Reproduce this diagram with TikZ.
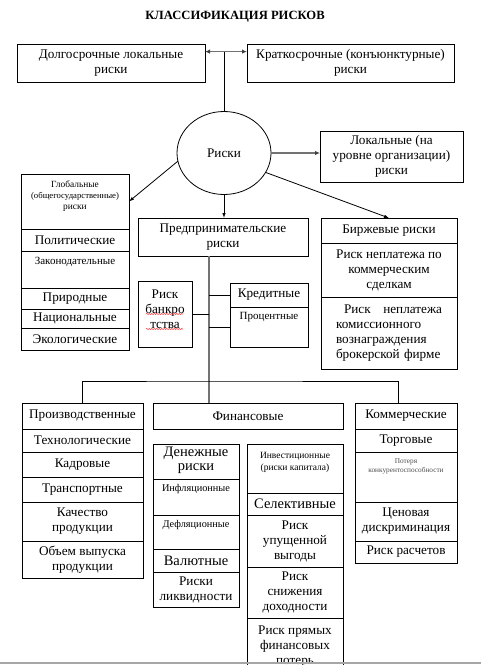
\documentclass[tikz,border=0pt]{standalone}
\usepackage{fontspec}
\setmainfont{Liberation Serif}
\usetikzlibrary{calc,shapes.geometric,arrows.meta,decorations.pathmorphing,positioning}

\tikzset{
	cell/.style={draw, rectangle, anchor=north west, inner sep=1pt, outer sep=0pt, align=center,
		line width=0.8pt, font=\fontsize{13.2}{15}\selectfont},
	bigcell/.style={cell, font=\fontsize{14.5}{14.5}\selectfont},
	toptext/.style={anchor=north, align=center, inner sep=2pt, yshift=-3pt, font=\fontsize{11}{12}\selectfont},
	link/.style={draw, line width=0.8pt},
	graylink/.style={draw=black!55, line width=1.5pt},
	>={Latex[length=5pt,width=3.5pt]}
}

\begin{document}
\begin{tikzpicture}[x=1pt,y=-1pt]
		\useasboundingbox (0,0) rectangle (481,665);
		\clip (0,0) rectangle (481,665);
		\node[font=\fontsize{12.6}{14}\selectfont\bfseries] (title) at (235,17) {КЛАССИФИКАЦИЯ РИСКОВ};
		% top row
		\node[cell, minimum width=188, minimum height=38] (long) at (17,44) {Долгосрочные локальные\\риски};
		\node[cell, minimum width=207, minimum height=38] (short) at (247,44) {Краткосрочные (конъюнктурные)\\риски};
		\node[ellipse, draw, line width=0.8pt, outer sep=0pt, minimum width=94, minimum height=83,
			font=\fontsize{13.2}{15}\selectfont] (risks) at (224,153) {Риски};
		\node[cell, minimum width=143, minimum height=51] (local) at (320,131) {Локальные (на\\уровне организации)\\риски};
		% global risks
		\node[cell, minimum width=108, minimum height=55,
			label={[toptext, yshift=-2pt, font=\fontsize{9.4}{11}\selectfont]north:Глобальные\\{\fontsize{8.7}{11}\selectfont(общегосударственные)}\\риски}] (glob) at (21,174) {};
		\node[cell, minimum width=108, minimum height=22] (polit) at (glob.south west) {Политические};
		\node[cell, minimum width=108, minimum height=37, label={[toptext, yshift=-1pt]north:Законодательные}] (zakon) at (polit.south west) {};
		\node[cell, minimum width=108, minimum height=21] (prirod) at (zakon.south west) {Природные};
		\node[cell, minimum width=108, minimum height=19] (nac) at (prirod.south west) {Национальные};
		\node[cell, minimum width=108, minimum height=22] (eco) at (nac.south west) {Экологические};
		% entrepreneurial risks
		\node[cell, minimum width=170, minimum height=38] (pred) at (138,218) {Предпринимательские\\риски};
		\node[cell, minimum width=54, minimum height=66,
			label={[toptext, yshift=-4pt, font=\fontsize{13.2}{15}\selectfont]north:Риск\\банкро\\тства}] (bank) at (138,281) {};
		\node[cell, minimum width=78, minimum height=24] (kred) at (230,283) {Кредитные};
		\node[cell, minimum width=78, minimum height=40, label={[toptext]north:Процентные}] (proc) at (kred.south west) {};
		\foreach \y in {314,329}
		\draw[red!80, line width=0.5pt, decorate, decoration={snake, amplitude=0.6pt, segment length=2.5pt}] (146,\y) -- (183,\y);
		% exchange risks
		\node[cell, minimum width=136, minimum height=25] (birzh) at (321,218) {Биржевые риски};
		\node[cell, minimum width=136, minimum height=54] (neplat) at (birzh.south west) {Риск неплатежа по\\коммерческим\\сделкам};
		\node[cell, minimum width=136, minimum height=72, text width=106, align=left] (broker) at (neplat.south west)
			{\hspace*{8pt}Риск\hfill неплатежа\\комиссионного\\вознаграждения\\брокерской фирме};
		% production risks
		\node[cell, minimum width=121, minimum height=26] (proizv) at (22,403) {Производственные};
		\node[cell, minimum width=121, minimum height=23] (tech) at (proizv.south west) {Технологические};
		\node[cell, minimum width=121, minimum height=25] (kadr) at (tech.south west) {Кадровые};
		\node[cell, minimum width=121, minimum height=25] (transp) at (kadr.south west) {Транспортные};
		\node[cell, minimum width=121, minimum height=39] (kach) at (transp.south west) {Качество\\продукции};
		\node[cell, minimum width=121, minimum height=37] (obem) at (kach.south west) {Объем выпуска\\продукции};
		% financial risks
		\node[cell, minimum width=190, minimum height=26] (fin) at (153,403) {Финансовые};
		\node[bigcell, minimum width=86, minimum height=35, text depth=6pt] (den) at (153,444) {Денежные\\риски};
		\node[cell, minimum width=86, minimum height=36, label={[toptext, font=\fontsize{10.3}{12}\selectfont]north:Инфляционные}] (infl) at (den.south west) {};
		\node[cell, minimum width=86, minimum height=34, label={[toptext, font=\fontsize{10.3}{12}\selectfont]north:Дефляционные}] (defl) at (infl.south west) {};
		\node[bigcell, minimum width=86, minimum height=23] (val) at (defl.south west) {Валютные};
		\node[cell, minimum width=86, minimum height=35] (likv) at (val.south west) {Риски\\ликвидности};
		\node[cell, minimum width=96, minimum height=49,
			label={[toptext, yshift=-3pt, font=\fontsize{9.5}{12}\selectfont]north:Инвестиционные\\(риски капитала)}] (inv) at (247,444) {};
		\node[bigcell, minimum width=96, minimum height=22] (sel) at (inv.south west) {Селективные};
		\node[cell, minimum width=96, minimum height=52] (upus) at (sel.south west) {Риск\\упущенной\\выгоды};
		\node[cell, minimum width=96, minimum height=51] (sniz) at (upus.south west) {Риск\\снижения\\доходности};
		\node[cell, minimum width=96, minimum height=57] (pryam) at (sniz.south west) {Риск прямых\\финансовых\\потерь};
		% commercial risks
		\node[cell, minimum width=102, minimum height=26] (komm) at (355,403) {Коммерческие};
		\node[cell, minimum width=102, minimum height=23] (torg) at (komm.south west) {Торговые};
		\node[cell, minimum width=102, minimum height=50,
			label={[toptext, yshift=-2pt, text=black!70, font=\fontsize{7.3}{9}\selectfont]north:Потеря\\конкурентоспособности}] (poter) at (torg.south west) {};
		\node[cell, minimum width=102, minimum height=39] (cen) at (poter.south west) {Ценовая\\дискриминация};
		\node[cell, minimum width=102, minimum height=22] (rasch) at (cen.south west) {Риск расчетов};
		% connectors
		\coordinate (dj) at ($(long.north east)!0.2!(long.south east)$);
		\coordinate (tj) at (209,381);
		\coordinate (kj) at (398,381);
		\draw[graylink, <->, >={Latex[length=5pt,width=4.5pt,black!75]}] (dj) -- (dj -| short.west);
		\draw[link] (risks.north) -- (risks.north |- dj);
		\draw[graylink, ->, >={Latex[length=5pt,width=4.5pt,black!75]}] (risks.east) -- (risks.east -| local.west);
		\draw[link, ->] (risks.south) -- (risks.south |- pred.north);
		\draw[link, ->] (risks.-25) -- (birzh.north);
		\draw[link, ->] (risks.190) -- (glob.east);
		\draw[graylink] (pred.south -| tj) -- (fin.north -| tj);
		\draw[link] (bank.east) -- (bank.east -| tj);
		\draw[link] (kred.west) -- (kred.west -| tj);
		\draw[link] (proc.west) -- (proc.west -| tj);
		\draw[link] (proizv.north) |- (tj) -- (kj) -- (kj |- komm.north);
		\draw[black!35, line width=1.5pt] (0,663) -- (481,663);
\end{tikzpicture}
\end{document}
